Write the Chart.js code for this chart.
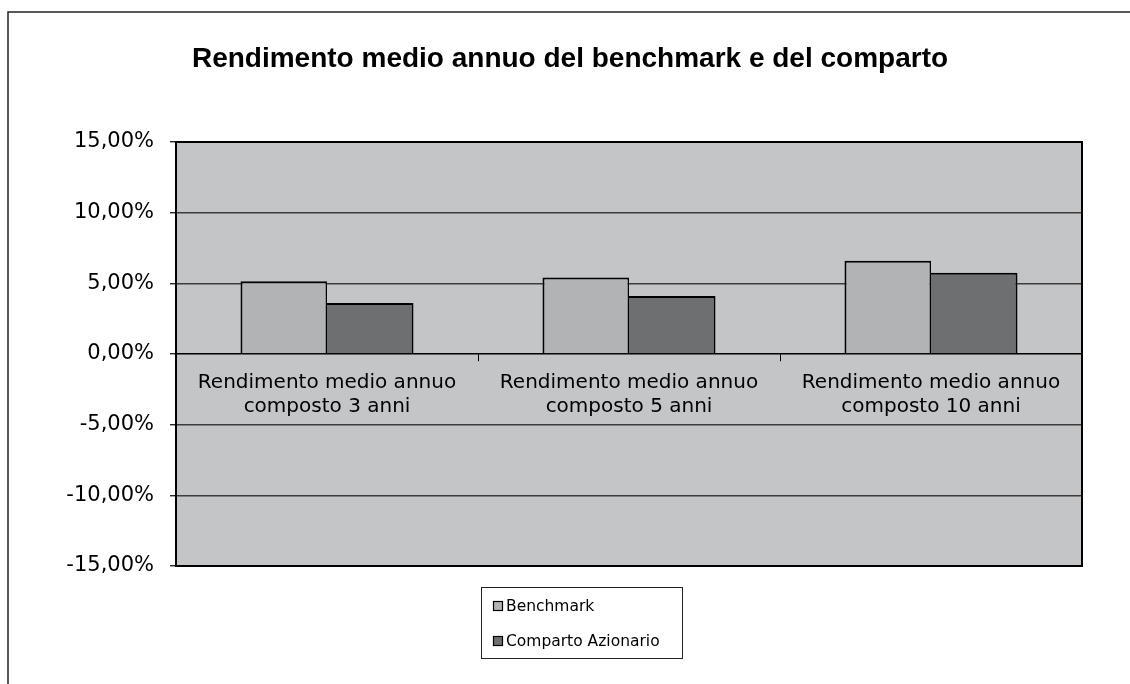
<!DOCTYPE html>
<html>
<head>
<meta charset="utf-8">
<script src="https://cdn.jsdelivr.net/npm/chart.js@4"></script>
<style>
  html, body { margin: 0; padding: 0; background: #ffffff; }
  #wrap { width: 1130px; height: 684px; position: relative; }
</style>
</head>
<body>
<div id="wrap"><canvas id="c" width="1130" height="684"></canvas></div>
<script>
const titleText = "Rendimento medio annuo del benchmark e del comparto";
const categories = [
  ["Rendimento medio annuo", "composto 3 anni"],
  ["Rendimento medio annuo", "composto 5 anni"],
  ["Rendimento medio annuo", "composto 10 anni"]
];
const seriesNames = ["Benchmark", "Comparto Azionario"];
const benchmarkValues = [5.14, 5.42, 6.59];
const compartoValues = [3.61, 4.11, 5.74];
const yTickValues = [-15, -10, -5, 0, 5, 10, 15];

const PLOT_BG = "#c4c5c7";

const decorPlugin = {
  id: "decor",
  beforeDraw(chart) {
    const ctx = chart.ctx;
    const a = chart.chartArea;
    ctx.save();
    ctx.fillStyle = "#ffffff";
    ctx.fillRect(0, 0, chart.width, chart.height);
    ctx.strokeStyle = "#222";
    ctx.lineWidth = 1.5;
    ctx.beginPath();
    ctx.moveTo(8, chart.height);
    ctx.lineTo(8, 12);
    ctx.lineTo(chart.width, 12);
    ctx.stroke();
    ctx.fillStyle = PLOT_BG;
    ctx.fillRect(a.left, a.top, a.right - a.left, a.bottom - a.top);
    ctx.restore();
  },
  afterDraw(chart) {
    const ctx = chart.ctx;
    const a = chart.chartArea;
    ctx.save();
    ctx.strokeStyle = "#000";
    ctx.lineWidth = 2;
    ctx.strokeRect(a.left, a.top, a.right - a.left, a.bottom - a.top);
    ctx.fillStyle = "#000";
    ctx.font = "bold 28px 'Liberation Sans', Arial, sans-serif";
    ctx.textAlign = "center";
    ctx.textBaseline = "alphabetic";
    ctx.fillText(titleText, 570, 67);
    const lx = 481, ly = 587, lw = 201, lh = 71;
    ctx.fillStyle = "#fff";
    ctx.fillRect(lx, ly, lw, lh);
    ctx.strokeStyle = "#222";
    ctx.lineWidth = 1;
    ctx.strokeRect(lx + 0.5, ly + 0.5, lw, lh);
    const rows = [606, 641];
    ctx.font = "15.5px 'DejaVu Sans', Verdana, sans-serif";
    ctx.textAlign = "left";
    ctx.textBaseline = "middle";
    chart.data.datasets.forEach((ds, i) => {
      const cy = rows[i];
      ctx.fillStyle = ds.backgroundColor;
      ctx.fillRect(493, cy - 5, 10, 10);
      ctx.strokeStyle = "#000";
      ctx.lineWidth = 1.2;
      ctx.strokeRect(493.5, cy - 4.5, 9, 9);
      ctx.fillStyle = "#000";
      ctx.fillText(ds.label, 506, cy + 1);
    });
    ctx.restore();
  }
};

new Chart(document.getElementById("c"), {
  type: "bar",
  data: {
    labels: categories,
    datasets: [
      {
        label: seriesNames[0],
        data: benchmarkValues,
        backgroundColor: "#b2b3b5",
        borderColor: "#000",
        borderWidth: { top: 2, left: 2, right: 1.5, bottom: 0 },
        barPercentage: 1,
        categoryPercentage: 0.573
      },
      {
        label: seriesNames[1],
        data: compartoValues,
        backgroundColor: "#6e6f71",
        borderColor: "#000",
        borderWidth: { top: 2, left: 0, right: 2, bottom: 0 },
        barPercentage: 1,
        categoryPercentage: 0.573
      }
    ]
  },
  options: {
    responsive: false,
    animation: false,
    devicePixelRatio: 1,
    layout: { padding: { left: 0, top: 142, right: 48, bottom: 118 } },
    plugins: {
      legend: { display: false },
      title: { display: false },
      tooltip: { enabled: false }
    },
    scales: {
      x: {
        type: "category",
        position: { y: 0 },
        offset: true,
        grid: {
          offset: true,
          drawOnChartArea: false,
          drawTicks: true,
          tickLength: 7,
          color: "#000",
          tickColor: "#000",
          lineWidth: 1
        },
        border: { display: true, color: "#000", width: 1.2 },
        ticks: {
          color: "#000",
          font: { family: "'DejaVu Sans', Verdana, sans-serif", size: 20, lineHeight: 1.2 },
          padding: 10,
          maxRotation: 0,
          minRotation: 0,
          autoSkip: false
        }
      },
      y: {
        min: yTickValues[0],
        max: yTickValues[yTickValues.length - 1],
        afterFit(scale) { scale.width = 176; },
        afterBuildTicks(scale) { scale.ticks = yTickValues.map(v => ({ value: v })); },
        grid: {
          color: "#3c3c3c",
          lineWidth: 1.5,
          drawTicks: true,
          tickLength: 6,
          tickColor: "#000",
          tickWidth: 1.2
        },
        border: { display: true, color: "#000", width: 2 },
        ticks: {
          color: "#000",
          padding: 16,
          font: { family: "'DejaVu Sans', Verdana, sans-serif", size: 21 },
          callback: (v) => v.toFixed(2).replace(".", ",") + "%"
        }
      }
    }
  },
  plugins: [decorPlugin]
});
</script>
</body>
</html>
